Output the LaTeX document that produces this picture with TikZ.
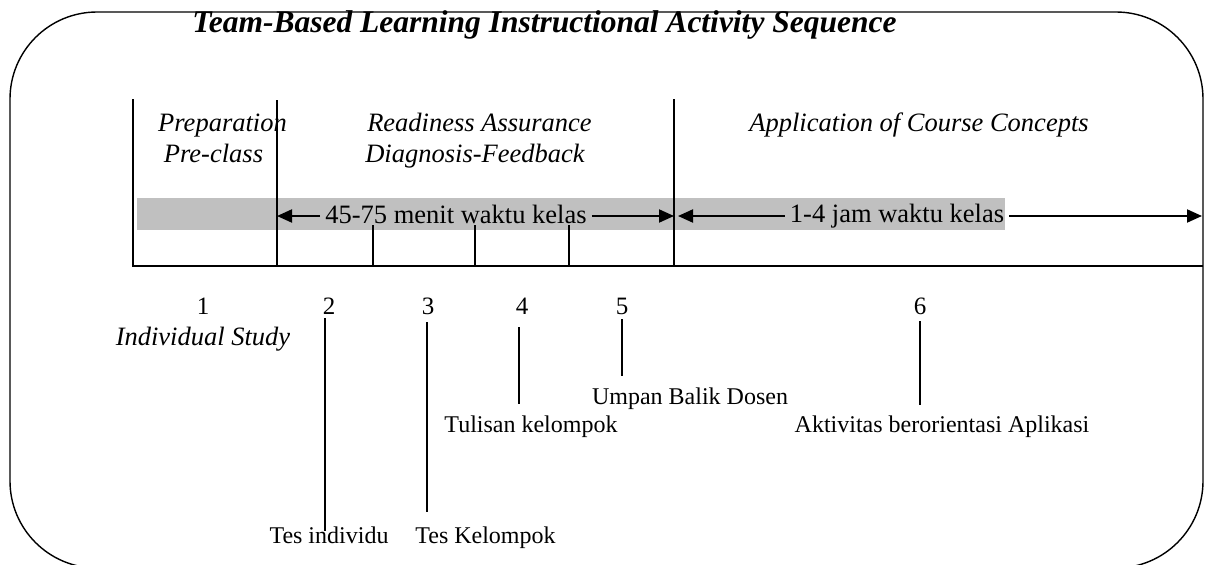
\documentclass[tikz,border=0pt]{standalone}
\usepackage{fontspec}
\setmainfont{Liberation Serif}
\usetikzlibrary{arrows.meta}
\definecolor{bandgray}{RGB}{192,192,192}
\begin{document}
\begin{tikzpicture}[x=1pt,y=-1pt,
  frame/.style={draw=black,line width=1.4pt,rounded corners=87pt},
  rule/.style={draw=black,line width=2pt},
  tick/.style={draw=black,line width=1.6pt},
  stem/.style={draw=black,line width=1.8pt},
  span/.style={draw=black,line width=2pt,-{Triangle[length=15pt,width=13pt]}},
  title/.style={font=\fontsize{31.5}{36}\selectfont\bfseries\itshape,anchor=base,inner sep=0pt},
  phase/.style={font=\fontsize{26.5}{30}\selectfont\itshape,anchor=base,inner sep=0pt},
  dur/.style={font=\fontsize{26.5}{30}\selectfont,anchor=base,inner xsep=5pt,inner ysep=0pt},
  num/.style={font=\fontsize{25}{29}\selectfont,anchor=base,inner sep=0pt},
  act/.style={font=\fontsize{24}{28}\selectfont,anchor=base,inner sep=0pt}]
\useasboundingbox (0,0) rectangle (1216,565);

% outer rounded frame
\draw[frame] (10,12) rectangle (1203,568);

% grey time band
\fill[bandgray] (137,198) rectangle (1005,230);

% title
\node[title] (ttl) at (544.5,32) {Team-Based Learning Instructional Activity Sequence};

% phase headings
\node[phase] (prep) at (222.5,131) {Preparation};
\node[phase] (precl) at (213.5,162) {Pre-class};
\node[phase] (ready) at (479.5,131) {Readiness Assurance};
\node[phase] (diag) at (475,162) {Diagnosis-Feedback};
\node[phase] (appl) at (919,131) {Application of Course Concepts};

% phase dividers and time axis
\coordinate (d1t) at (133,99);  \coordinate (d1b) at (133,266);
\coordinate (d2t) at (277,100); \coordinate (d2b) at (277,267);
\coordinate (d3t) at (674,99);  \coordinate (d3b) at (674,266);
\coordinate (axR) at (1203,266);
\draw[rule] (d1t) -- (d1b) -- (axR);
\draw[rule] (d2t) -- (d2b);
\draw[rule] (d3t) -- (d3b);

% step ticks
\coordinate (t1t) at (373,225); \coordinate (t1b) at (373,266);
\coordinate (t2t) at (475,225); \coordinate (t2b) at (475,266);
\coordinate (t3t) at (569,225); \coordinate (t3b) at (569,266);
\draw[tick] (t1t) -- (t1b);
\draw[tick] (t2t) -- (t2b);
\draw[tick] (t3t) -- (t3b);

% duration spans
\node[dur] (dur1) at (456,223) {45-75 menit waktu kelas};
\node[dur] (dur2) at (897,222) {1-4 jam waktu kelas};
\coordinate (s1L) at (277,216); \coordinate (s1R) at (674,216);
\coordinate (s2L) at (678,216); \coordinate (s2R) at (1202,216);
\draw[span] (dur1.west |- s1L) -- (s1L);
\draw[span] (dur1.east |- s1R) -- (s1R);
\draw[span] (dur2.west |- s2L) -- (s2L);
\draw[span] (dur2.east |- s2R) -- (s2R);

% step numbers
\node[num] (n1) at (203,314) {1};
\node[num] (n2) at (329,314) {2};
\node[num] (n3) at (428,314) {3};
\node[num] (n4) at (522,314) {4};
\node[num] (n5) at (622,314) {5};
\node[num] (n6) at (920,314) {6};
\node[phase] (indiv) at (203,345) {Individual Study};

% activity labels
\node[act] (a2) at (329,543) {Tes individu};
\node[act] (a3) at (485.5,543) {Tes Kelompok};
\node[act] (a4) at (531,432) {Tulisan kelompok};
\node[act] (a5) at (690,404) {Umpan Balik Dosen};
\node[act] (a6) at (942,432) {Aktivitas berorientasi Aplikasi};

% leader lines from numbers to activities
\coordinate (c2t) at (325,318); \coordinate (c2b) at (325,531);
\coordinate (c3t) at (427,322); \coordinate (c3b) at (427,512);
\coordinate (c4t) at (519,327); \coordinate (c4b) at (519,404);
\coordinate (c5t) at (622,319); \coordinate (c5b) at (622,376);
\coordinate (c6t) at (920,321); \coordinate (c6b) at (920,405);
\draw[stem] (c2t) -- (c2b);
\draw[stem] (c3t) -- (c3b);
\draw[stem] (c4t) -- (c4b);
\draw[stem] (c5t) -- (c5b);
\draw[stem] (c6t) -- (c6b);
\end{tikzpicture}
\end{document}
